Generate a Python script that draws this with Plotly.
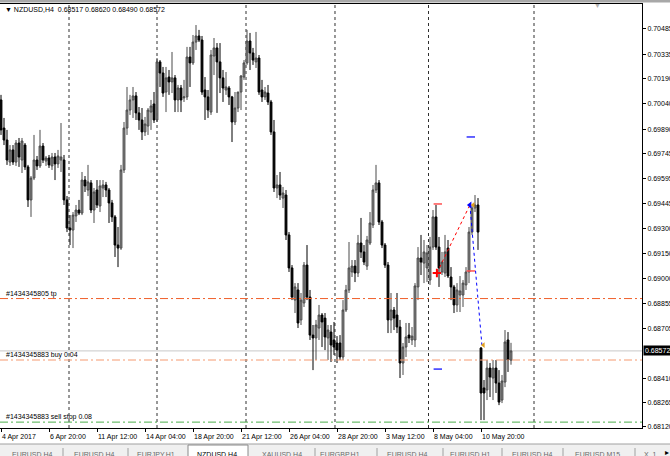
import plotly.graph_objects as go

symbol = "NZDUSD,H4"

opens = [0.70063,0.69896,0.69825,0.69694,0.69766,0.69694,0.69807,0.69706,0.69795,0.69665,
0.69469,0.69599,0.69706,0.69671,0.69789,0.69700,0.69718,0.69671,0.69724,0.69683,
0.69706,0.69706,0.69469,0.69302,0.69290,0.69374,0.69409,0.69391,0.69587,0.69528,
0.69570,0.69409,0.69528,0.69433,0.69540,0.69558,0.69528,0.69451,0.69368,0.69201,
0.69183,0.69647,0.69896,0.70003,0.70063,0.70087,0.69986,0.69944,0.69873,0.69908,
0.69991,0.70039,0.69944,0.70289,0.70223,0.70110,0.70199,0.70170,0.70194,0.70063,
0.70134,0.70075,0.70081,0.70318,0.70283,0.70407,0.70443,0.70419,0.70122,0.70081,
0.69991,0.70324,0.70372,0.70289,0.70194,0.70122,0.70134,0.70081,0.69932,0.70015,
0.70110,0.70199,0.70283,0.70413,0.70342,0.70289,0.70312,0.70122,0.70081,0.70104,
0.70051,0.69873,0.69540,0.69558,0.69480,0.69498,0.69261,0.69065,0.68874,0.68934,
0.68756,0.68857,0.69082,0.68892,0.68666,0.68649,0.68708,0.68785,0.68767,0.68649,
0.68684,0.68637,0.68619,0.68619,0.68536,0.68815,0.68934,0.69041,0.69076,0.69035,
0.69213,0.69160,0.69076,0.69213,0.69320,0.69528,0.69570,0.69338,0.69201,0.69082,
0.68756,0.68815,0.68785,0.68714,0.68500,0.68595,0.68666,0.68637,0.68637,0.68952,
0.69124,0.69094,0.69065,0.68993,0.69189,0.69368,0.69189,0.69041,0.69035,0.69183,
0.69011,0.68952,0.68845,0.68904,0.68904,0.68964,0.69041,0.69278,0.69421,0.69439,
0.68589,0.68352,0.68340,0.68470,0.68411,0.68470,0.68381,0.68280,0.68387,0.68637,
0.68517]

highs = [0.70093,0.69956,0.69885,0.69795,0.69795,0.69825,0.69837,0.69837,0.69807,0.69677,
0.69611,0.69855,0.69730,0.69885,0.69807,0.69730,0.69736,0.69748,0.69748,0.69766,
0.69926,0.69736,0.69492,0.69379,0.69397,0.69439,0.69469,0.69635,0.69611,0.69677,
0.69587,0.69540,0.69587,0.69587,0.69587,0.69576,0.69540,0.69469,0.69379,0.69308,
0.69677,0.69932,0.70140,0.70093,0.70140,0.70110,0.70021,0.70015,0.69962,0.70015,
0.70063,0.70110,0.70312,0.70300,0.70259,0.70259,0.70241,0.70348,0.70211,0.70152,
0.70152,0.70182,0.70378,0.70378,0.70449,0.70508,0.70479,0.70443,0.70199,0.70122,
0.70360,0.70431,0.70401,0.70401,0.70241,0.70229,0.70146,0.70087,0.70110,0.70110,
0.70211,0.70300,0.70479,0.70461,0.70372,0.70467,0.70330,0.70182,0.70140,0.70152,
0.70063,0.69944,0.69617,0.69635,0.69546,0.69528,0.69278,0.69082,0.68975,0.68975,
0.68916,0.69100,0.69201,0.68934,0.68726,0.68756,0.68845,0.68797,0.68797,0.68726,
0.68726,0.68744,0.68660,0.68666,0.68874,0.68964,0.69219,0.69112,0.69112,0.69261,
0.69362,0.69201,0.69255,0.69397,0.69558,0.69677,0.69587,0.69350,0.69213,0.69100,
0.68916,0.68833,0.68916,0.68756,0.68619,0.68738,0.68738,0.68714,0.68975,0.69189,
0.69261,0.69231,0.69201,0.69249,0.69409,0.69439,0.69249,0.69160,0.69261,0.69231,
0.69070,0.68964,0.68975,0.69017,0.68993,0.69070,0.69308,0.69439,0.69498,0.69480,
0.68595,0.68399,0.68518,0.68500,0.68518,0.68518,0.68458,0.68429,0.68696,0.68684,
0.68620]

lows = [0.69855,0.69795,0.69677,0.69671,0.69677,0.69671,0.69665,0.69629,0.69647,0.69427,
0.69368,0.69587,0.69647,0.69659,0.69688,0.69671,0.69659,0.69647,0.69587,0.69659,
0.69635,0.69439,0.69278,0.69201,0.69183,0.69338,0.69379,0.69379,0.69516,0.69492,
0.69391,0.69332,0.69421,0.69397,0.69486,0.69486,0.69332,0.69338,0.69130,0.69070,
0.69172,0.69629,0.69855,0.69974,0.69956,0.69944,0.69885,0.69825,0.69849,0.69855,
0.69885,0.69926,0.69932,0.70140,0.70081,0.69991,0.70093,0.70104,0.69991,0.69991,
0.69991,0.70051,0.70063,0.70140,0.70271,0.70360,0.70407,0.70093,0.69944,0.69956,
0.69974,0.70211,0.69986,0.70104,0.70051,0.70093,0.70033,0.69813,0.69914,0.69991,
0.70003,0.70182,0.70271,0.70241,0.70271,0.70253,0.70093,0.70051,0.70063,0.70033,
0.69855,0.69516,0.69480,0.69469,0.69421,0.69231,0.69041,0.68874,0.68797,0.68708,
0.68726,0.68833,0.68874,0.68637,0.68458,0.68518,0.68637,0.68595,0.68577,0.68518,
0.68506,0.68548,0.68500,0.68518,0.68518,0.68803,0.68916,0.69011,0.68981,0.69011,
0.69124,0.69082,0.69053,0.69201,0.69302,0.69510,0.69320,0.69183,0.69065,0.68678,
0.68678,0.68696,0.68678,0.68411,0.68429,0.68536,0.68619,0.68607,0.68595,0.68874,
0.69023,0.68975,0.68981,0.68964,0.69172,0.69172,0.68952,0.69023,0.69011,0.69005,
0.68874,0.68797,0.68803,0.68803,0.68833,0.68934,0.68975,0.69261,0.69397,0.69172,
0.68161,0.68161,0.68280,0.68298,0.68280,0.68322,0.68250,0.68262,0.68357,0.68447,
0.68490]

closes = [0.69885,0.69825,0.69706,0.69766,0.69694,0.69807,0.69724,0.69819,0.69665,0.69469,
0.69599,0.69706,0.69671,0.69789,0.69706,0.69718,0.69677,0.69724,0.69683,0.69730,
0.69724,0.69469,0.69302,0.69290,0.69379,0.69409,0.69391,0.69587,0.69552,0.69576,
0.69409,0.69516,0.69439,0.69552,0.69558,0.69528,0.69451,0.69368,0.69201,0.69183,
0.69647,0.69896,0.70003,0.70063,0.70087,0.69986,0.69944,0.69873,0.69920,0.70003,
0.70027,0.69944,0.70289,0.70223,0.70104,0.70194,0.70170,0.70194,0.70063,0.70134,
0.70063,0.70081,0.70318,0.70283,0.70407,0.70443,0.70419,0.70110,0.70081,0.70003,
0.70330,0.70372,0.70289,0.70194,0.70134,0.70140,0.70081,0.69932,0.70015,0.70110,
0.70205,0.70283,0.70413,0.70342,0.70300,0.70312,0.70110,0.70081,0.70110,0.70051,
0.69873,0.69540,0.69558,0.69498,0.69510,0.69261,0.69065,0.68892,0.68952,0.68738,
0.68874,0.69082,0.68892,0.68666,0.68649,0.68726,0.68785,0.68744,0.68655,0.68696,
0.68607,0.68595,0.68577,0.68536,0.68815,0.68934,0.69065,0.69076,0.69035,0.69213,
0.69160,0.69100,0.69231,0.69332,0.69528,0.69570,0.69338,0.69201,0.69082,0.68756,
0.68815,0.68767,0.68714,0.68500,0.68595,0.68655,0.68649,0.68660,0.68958,0.69124,
0.69100,0.69160,0.69154,0.69189,0.69368,0.69189,0.69065,0.69100,0.69160,0.69017,
0.68952,0.68845,0.68934,0.68928,0.68975,0.69041,0.69278,0.69421,0.69439,0.69278,
0.68322,0.68322,0.68470,0.68417,0.68470,0.68381,0.68268,0.68393,0.68625,0.68518,
0.68572]

bars = list(range(len(opens)))

date_tick_bars = [0, 16, 32, 48, 64, 80, 96, 112, 128, 144, 160]
date_tick_labels = ["4 Apr 2017", "6 Apr 20:00", "11 Apr 12:00", "14 Apr 04:00", "18 Apr 20:00",
                    "21 Apr 12:00", "26 Apr 04:00", "28 Apr 20:00", "3 May 12:00", "8 May 04:00",
                    "10 May 20:00"]
grid_bars = [22.67, 52.0, 81.67, 111.33, 142.5, 177.67]
shift_marker_bar = 198.7

price_ticks = [0.70485, 0.70335, 0.70190, 0.70040, 0.69890, 0.69745, 0.69595, 0.69445,
               0.69300, 0.69150, 0.69000, 0.68855, 0.68705, 0.68410, 0.68265, 0.68120]
price_tick_labels = ["%.5f" % v for v in price_ticks]

tp_price = 0.68883
buy_price = 0.68518
sellstop_price = 0.68149
bid_price = closes[-1]
order_labels = ["#1434345805 tp", "#1434345883 buy 0.04", "#1434345883 sell stop 0.08"]

deal_bars = [145.3, 156.3, 160.3]
deal_prices = [0.69035, 0.69439, 0.68607]
exit_mark_bars = [157.4, 160.8]
exit_mark_prices = [0.69439, 0.68607]
red_dash_bars = [145.6, 156.6]
red_dash_prices = [0.69445, 0.69047]
blue_dash_bars = [156.6, 145.6]
blue_dash_prices = [0.69843, 0.68464]

tabs = ["EURUSD,H4", "EURUSD,H4", "EURJPY,H1", "NZDUSD,H4", "XAUUSD,H4", "EURGBP,H1",
        "EURUSD,H4", "EURUSD,H1", "EURUSD,H4", "EURUSD,M15", "X, 1"]
active_tab = 3

# ---- geometry (pixels of the 670x456 picture)
PL, PR, PT, PB = 0, 642, 4, 428
W, H = 670, 456
def px(x):
    return (x - PL) / (PR - PL)
def py(y):
    return (PB - y) / (PB - PT)

FONT = "Liberation Sans, Arial, sans-serif"

fig = go.Figure()
fig.add_trace(go.Candlestick(
    x=bars, open=opens, high=highs, low=lows, close=closes,
    increasing=dict(line=dict(color="#4a4a4a", width=1), fillcolor="#8a8a8a"),
    decreasing=dict(line=dict(color="#000000", width=1), fillcolor="#000000"),
    whiskerwidth=0, hoverinfo="skip"))

# trade history lines
fig.add_trace(go.Scatter(x=deal_bars[:2], y=deal_prices[:2], mode="lines",
                         line=dict(color="#ff0000", width=1, dash="dot"), hoverinfo="skip"))
fig.add_trace(go.Scatter(x=deal_bars[1:], y=deal_prices[1:], mode="lines",
                         line=dict(color="#0000ff", width=1, dash="dot"), hoverinfo="skip"))
fig.add_trace(go.Scatter(x=[deal_bars[0]], y=[deal_prices[0]], mode="markers",
                         marker=dict(symbol="cross-thin", size=6, line=dict(color="#ff0000", width=2)),
                         hoverinfo="skip"))
fig.add_trace(go.Scatter(x=[deal_bars[1]], y=[deal_prices[1]], mode="markers",
                         marker=dict(symbol="triangle-left", size=6, color="#0000ff"), hoverinfo="skip"))
fig.add_trace(go.Scatter(x=exit_mark_bars, y=exit_mark_prices, mode="markers",
                         marker=dict(symbol="triangle-left", size=5, color="#e0a020"), hoverinfo="skip"))
fig.add_trace(go.Scatter(x=red_dash_bars, y=red_dash_prices, mode="markers",
                         marker=dict(symbol="line-ew", size=6, line=dict(color="#ff5050", width=1.5)),
                         hoverinfo="skip"))
fig.add_trace(go.Scatter(x=blue_dash_bars, y=blue_dash_prices, mode="markers",
                         marker=dict(symbol="line-ew", size=6, line=dict(color="#3030ff", width=1.5)),
                         hoverinfo="skip"))

shapes = []
for gb in grid_bars:
    shapes.append(dict(type="line", xref="x", yref="paper", x0=gb, x1=gb, y0=0, y1=1,
                       line=dict(color="#303030", width=1, dash="dot"), layer="below"))
shapes.append(dict(type="line", xref="paper", yref="y", x0=0, x1=1, y0=bid_price, y1=bid_price,
                   line=dict(color="#c8c8c8", width=1), layer="below"))
shapes.append(dict(type="line", xref="paper", yref="y", x0=0, x1=1, y0=tp_price, y1=tp_price,
                   line=dict(color="#f0602a", width=1, dash="8px,3px,2px,3px")))
shapes.append(dict(type="line", xref="paper", yref="y", x0=0, x1=1, y0=buy_price, y1=buy_price,
                   line=dict(color="#f59a70", width=1, dash="8px,3px,2px,3px")))
shapes.append(dict(type="line", xref="paper", yref="y", x0=0, x1=1, y0=sellstop_price, y1=sellstop_price,
                   line=dict(color="#4cae4c", width=1, dash="8px,3px,2px,3px")))
shapes.append(dict(type="rect", xref="paper", yref="paper", x0=px(0), x1=px(W), y0=py(2.5), y1=py(0),
                   fillcolor="#a8a8a8", line=dict(width=0)))
# tab bar
shapes.append(dict(type="rect", xref="paper", yref="paper", x0=px(0), x1=px(W), y0=py(456), y1=py(444),
                   fillcolor="#f0f0f0", line=dict(width=0)))
shapes.append(dict(type="line", xref="paper", yref="paper", x0=px(0), x1=px(W), y0=py(444), y1=py(444),
                   line=dict(color="#a0a0a0", width=1)))
tab_left = [10, 72, 135, 195, 260, 318, 385, 448, 510, 573, 642]
sep_x = [63, 128, 315, 377, 443, 502, 563, 635]
shapes.append(dict(type="rect", xref="paper", yref="paper", x0=px(188), x1=px(248), y0=py(457), y1=py(445),
                   fillcolor="#ffffff", line=dict(color="#8a8a8a", width=1)))
for sx in sep_x:
    shapes.append(dict(type="line", xref="paper", yref="paper", x0=px(sx), x1=px(sx), y0=py(456), y1=py(448),
                       line=dict(color="#a0a0a0", width=1)))

ann = []
ann.append(dict(xref="paper", yref="paper", x=px(3), y=py(9), xanchor="left", yanchor="middle",
                text="▼ %s  %.5f %.5f %.5f %.5f" % (symbol, opens[-1], highs[-1], lows[-1], closes[-1]),
                showarrow=False, font=dict(family=FONT, size=7, color="#000000")))
ann.append(dict(xref="x", yref="paper", x=shift_marker_bar, y=py(5), xanchor="center", yanchor="middle",
                text="▼", showarrow=False, font=dict(family=FONT, size=7, color="#b0b0b0")))
for b, t in zip(date_tick_bars, date_tick_labels):
    ann.append(dict(xref="x", yref="paper", x=b, y=py(437), xanchor="left", yanchor="middle",
                    xshift=-1, text=t, showarrow=False, font=dict(family=FONT, size=7, color="#000000")))
for p, t in zip([tp_price, buy_price, sellstop_price], order_labels):
    ann.append(dict(xref="paper", yref="y", x=px(4), y=p, xanchor="left", yanchor="bottom",
                    yshift=-1, text=t, showarrow=False, font=dict(family=FONT, size=7, color="#000000")))
ann.append(dict(xref="paper", yref="y", x=1, y=bid_price, xanchor="left", yanchor="middle",
                xshift=1, text="%.5f" % bid_price, showarrow=False, bgcolor="#000000", borderpad=1,
                font=dict(family=FONT, size=7, color="#ffffff")))
for i, (t, xl) in enumerate(zip(tabs, tab_left)):
    ann.append(dict(xref="paper", yref="paper", x=px(xl), y=py(454), xanchor="left", yanchor="middle",
                    text=t, showarrow=False,
                    font=dict(family=FONT, size=7, color="#000000" if i == active_tab else "#6a6a6a")))
ann.append(dict(xref="paper", yref="paper", x=px(667), y=py(452), xanchor="center", yanchor="middle",
                text="▸", showarrow=False, font=dict(family=FONT, size=8, color="#000000")))

fig.update_layout(
    width=W, height=H, margin=dict(l=PL, r=W - PR, t=PT, b=H - PB, autoexpand=False),
    paper_bgcolor="#ffffff", plot_bgcolor="#ffffff", showlegend=False, boxgap=0.12,
    shapes=shapes, annotations=ann,
    xaxis=dict(range=[-1 / 3, 641 / 3], showgrid=False, zeroline=False, showline=True, mirror=True,
               linecolor="#000000", linewidth=1, tickvals=date_tick_bars, ticks="outside", ticklen=3,
               tickcolor="#000000", showticklabels=False, rangeslider=dict(visible=False), fixedrange=True),
    yaxis=dict(side="right", range=[0.68114, 0.70633], showgrid=False, zeroline=False, showline=True,
               mirror=True, linecolor="#000000", linewidth=1, tickvals=price_ticks, ticktext=price_tick_labels,
               ticks="outside", ticklen=3, tickcolor="#000000",
               tickfont=dict(family=FONT, size=7, color="#000000"), fixedrange=True),
)

fig.write_html("out.html", config={"displayModeBar": False, "staticPlot": True},
               post_script="document.body.style.margin='0px';document.body.style.overflow='hidden';")
